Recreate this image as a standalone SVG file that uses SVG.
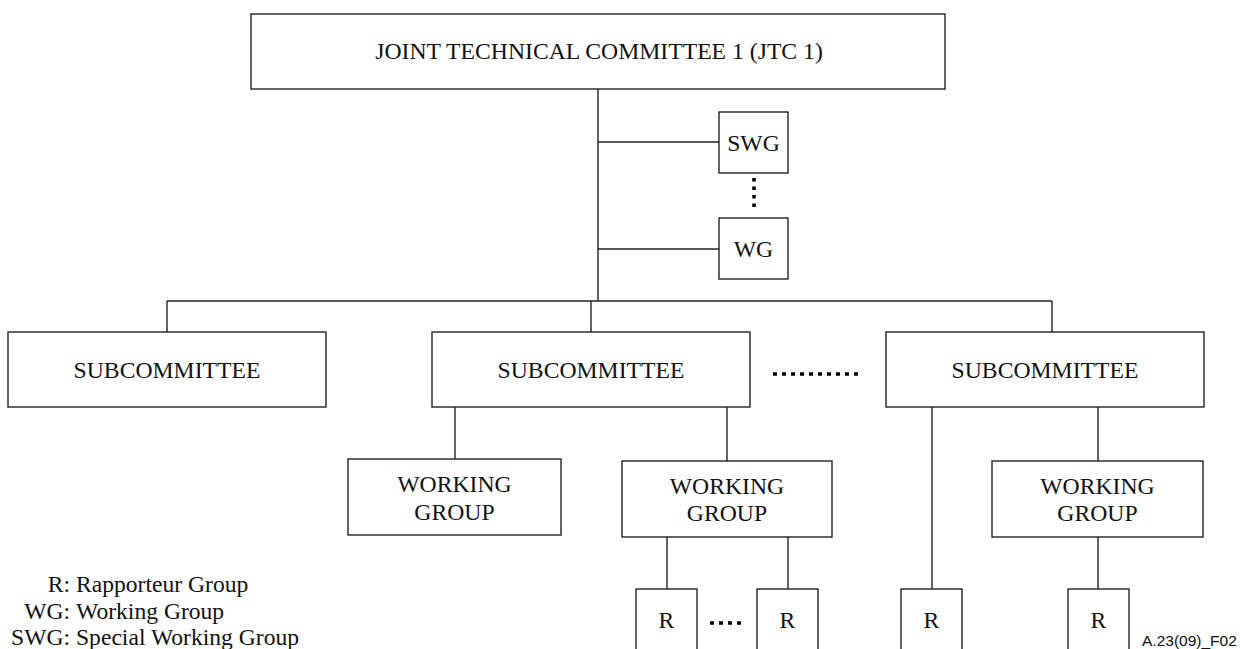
<svg xmlns="http://www.w3.org/2000/svg" width="1240" height="649" viewBox="0 0 1240 649">
<style>
.box{fill:#fff;stroke:#222;stroke-width:1.4}
.ln{stroke:#222;stroke-width:1.4;fill:none}
.dot{stroke:#000;fill:none}
.t{font-family:"Liberation Serif","Times New Roman",serif;font-size:23.7px;fill:#111;text-anchor:middle}
.lg{font-family:"Liberation Serif","Times New Roman",serif;font-size:23.6px;fill:#111}
.code{font-family:"Liberation Sans",Arial,sans-serif;font-size:15.5px;fill:#111}
</style>
<rect width="1240" height="649" fill="#fff"/>
<g id="connectors">
<line class="ln" x1="598" y1="89" x2="598" y2="301"/>
<line class="ln" x1="598" y1="142" x2="719" y2="142"/>
<line class="ln" x1="598" y1="249" x2="719" y2="249"/>
<line class="ln" x1="167" y1="301" x2="1052" y2="301"/>
<line class="ln" x1="167" y1="301" x2="167" y2="332"/>
<line class="ln" x1="591" y1="301" x2="591" y2="332"/>
<line class="ln" x1="1052" y1="301" x2="1052" y2="332"/>
<line class="ln" x1="455" y1="407" x2="455" y2="459"/>
<line class="ln" x1="727" y1="407" x2="727" y2="461"/>
<line class="ln" x1="932" y1="407" x2="932" y2="589"/>
<line class="ln" x1="1098" y1="407" x2="1098" y2="461"/>
<line class="ln" x1="667" y1="537" x2="667" y2="589"/>
<line class="ln" x1="788" y1="537" x2="788" y2="589"/>
<line class="ln" x1="1098" y1="537" x2="1098" y2="589"/>
<line class="dot" x1="754" y1="178" x2="754" y2="208" stroke-width="3.5" stroke-dasharray="3.5 5"/>
<line class="dot" x1="773" y1="374" x2="858" y2="374" stroke-width="3.5" stroke-dasharray="4 5"/>
<line class="dot" x1="710" y1="623" x2="741" y2="623" stroke-width="3.5" stroke-dasharray="4 5"/>
</g>
<g id="jtc1"><rect class="box" x="251" y="14" width="694" height="75"/><text class="t" x="599" y="59">JOINT TECHNICAL COMMITTEE 1 (JTC 1)</text></g>
<g id="swg"><rect class="box" x="719" y="112" width="69" height="61"/><text class="t" x="753.5" y="151">SWG</text></g>
<g id="wg"><rect class="box" x="719" y="218" width="69" height="61"/><text class="t" x="753.5" y="256.5">WG</text></g>
<g id="sc1"><rect class="box" x="8" y="332" width="318" height="75"/><text class="t" x="167" y="377.5">SUBCOMMITTEE</text></g>
<g id="sc2"><rect class="box" x="432" y="332" width="318" height="75"/><text class="t" x="591" y="377.5">SUBCOMMITTEE</text></g>
<g id="sc3"><rect class="box" x="886" y="332" width="318" height="75"/><text class="t" x="1045" y="377.5">SUBCOMMITTEE</text></g>
<g id="wg1"><rect class="box" x="348" y="459" width="213" height="76"/><text class="t" x="454.5" y="492">WORKING</text><text class="t" x="454.5" y="519.5">GROUP</text></g>
<g id="wg2"><rect class="box" x="622" y="461" width="210" height="76"/><text class="t" x="727" y="493.5">WORKING</text><text class="t" x="727" y="521">GROUP</text></g>
<g id="wg3"><rect class="box" x="992" y="461" width="211" height="76"/><text class="t" x="1097.5" y="493.5">WORKING</text><text class="t" x="1097.5" y="521">GROUP</text></g>
<g id="r1"><rect class="box" x="636" y="589" width="61" height="70"/><text class="t" x="666.5" y="628">R</text></g>
<g id="r2"><rect class="box" x="757" y="589" width="61" height="70"/><text class="t" x="787.5" y="628">R</text></g>
<g id="r3"><rect class="box" x="901" y="589" width="61" height="70"/><text class="t" x="931.5" y="628">R</text></g>
<g id="r4"><rect class="box" x="1068" y="589" width="61" height="70"/><text class="t" x="1098.5" y="628">R</text></g>
<g id="legend">
<text class="lg" x="70" y="592" text-anchor="end">R:</text><text class="lg" x="76" y="592">Rapporteur Group</text>
<text class="lg" x="70" y="619" text-anchor="end">WG:</text><text class="lg" x="76" y="619">Working Group</text>
<text class="lg" x="70" y="645" text-anchor="end">SWG:</text><text class="lg" x="76" y="645">Special Working Group</text>
</g>
<text class="code" x="1142" y="646">A.23(09)_F02</text>
</svg>
